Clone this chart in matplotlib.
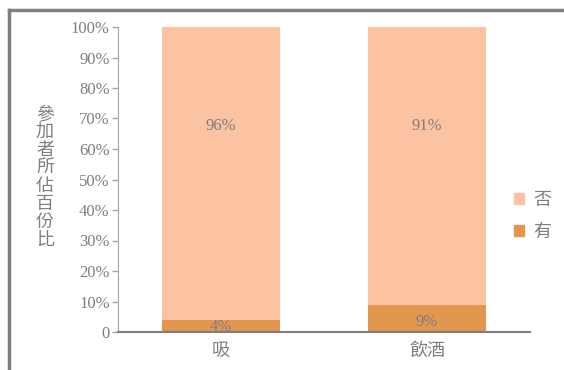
import matplotlib.pyplot as plt
from matplotlib.lines import Line2D
from matplotlib.patches import Patch

categories = ['吸', '飲酒']
yes_pct = [4, 9]
no_pct = [96, 91]
yticks = [0, 10, 20, 30, 40, 50, 60, 70, 80, 90, 100]
ytick_labels = ['0', '10%', '20%', '30%', '40%', '50%', '60%', '70%', '80%', '90%', '100%']

c_yes = '#E2964F'
c_no = '#FBC3A1'
grey = '#7F7F7F'
serif = ['Liberation Serif', 'Noto Sans CJK TC']
cjk = ['Noto Sans CJK TC', 'DejaVu Sans']

fig = plt.figure(figsize=(5.64, 3.70), dpi=100)
ax = fig.add_axes([118/564, 1 - 332/370, 412/564, 305/370])

x = range(len(categories))
ax.bar(x, yes_pct, width=0.57, color=c_yes, label='有')
ax.bar(x, no_pct, width=0.57, bottom=yes_pct, color=c_no, label='否')

for i in x:
    ax.text(i, yes_pct[i] * 0.37, f'{yes_pct[i]}%', ha='center', va='center',
            fontsize=12, color=grey, family=serif)
    ax.text(i, (yes_pct[i] + no_pct[i]) * 0.675, f'{no_pct[i]}%', ha='center', va='center',
            fontsize=12, color=grey, family=serif)

ax.set_xlim(-0.5, 1.5)
ax.set_ylim(0, 100)
ax.set_yticks(yticks)
ax.set_yticklabels(ytick_labels, family=serif, fontsize=12, color=grey)
ax.set_xticks(list(x))
ax.set_xticklabels(categories, family=cjk, fontsize=13, color=grey)
ax.tick_params(axis='x', length=0, pad=7)
ax.tick_params(axis='y', length=4, width=1, color='#A6A6A6', pad=2)
for s in ['top', 'right']:
    ax.spines[s].set_visible(False)
ax.spines['left'].set_color('#A6A6A6')
ax.spines['bottom'].set_color(grey)
ax.spines['bottom'].set_linewidth(1.5)

# vertical y label
fig.text(45/564, 1 - 177/370, '\n'.join('參加者所佔百份比'), ha='center', va='center',
         fontsize=13, color=grey, family=cjk, linespacing=1.0)

handles = [Patch(color=c_no), Patch(color=c_yes)]
leg = fig.legend(handles, ['否', '有'], loc='center left', bbox_to_anchor=(498/564, 1 - 216/370),
                 frameon=False, prop={'family': cjk, 'size': 13}, handlelength=0.55,
                 handleheight=0.55, handletextpad=0.5, labelspacing=0.8)
for t in leg.get_texts():
    t.set_color(grey)

# outer frame
fig.add_artist(Line2D([9/564, 9/564], [0, 1 - 10/370], transform=fig.transFigure,
                      color=grey, lw=2.5))
fig.add_artist(Line2D([9/564, 1], [1 - 10/370, 1 - 10/370], transform=fig.transFigure,
                      color=grey, lw=2.5))

fig.savefig('out.png', dpi=100)
